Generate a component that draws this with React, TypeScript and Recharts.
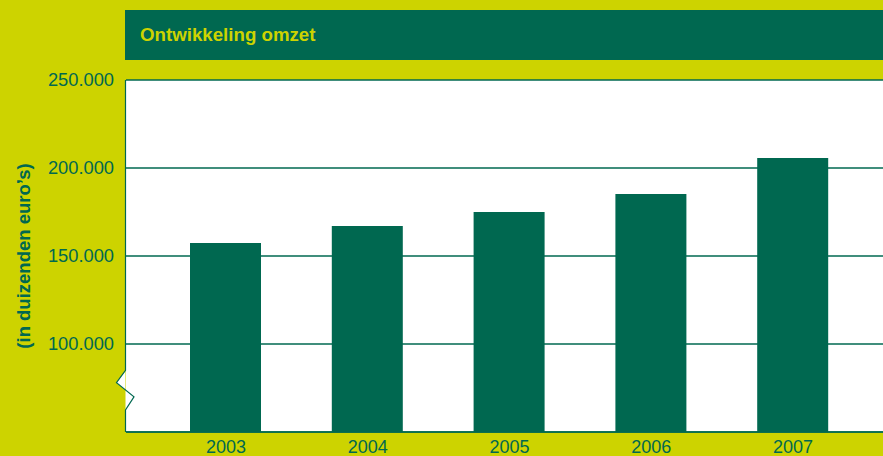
import React from 'react';
import { BarChart, Bar, XAxis, YAxis, CartesianGrid } from 'recharts';

const years = ['2003', '2004', '2005', '2006', '2007'];
const omzet = [157400, 167000, 175000, 185200, 205700];
const yTicks = [100000, 150000, 200000, 250000];
const yDomain = [50000, 250000];
// axis break drawn between these values (top, left apex, right apex, bottom)
const breakValues = [85000, 78000, 70000, 62500];

const GREEN = '#006850';
const YELLOW = '#cdd300';
const FONT = '"Liberation Sans", Arial, sans-serif';

const data = years.map((year, i) => ({ year, omzet: omzet[i] }));

const fmt = (v: number) => v.toLocaleString('de-DE');

const AxisDecor = (props: any) => {
  const vb = props.viewBox || { x: 0, y: 80, width: 126, height: 352 };
  const axisX = vb.x + vb.width - 0.5;
  const toY = (v: number) =>
    vb.y + vb.height * (1 - (v - yDomain[0]) / (yDomain[1] - yDomain[0]));
  const [b0, b1, b2, b3] = breakValues.map(toY);
  const bottom = vb.y + vb.height;
  return (
    <g>
      <polygon
        points={`${axisX},${b0} ${axisX - 9},${b1} ${axisX + 8.5},${b2} ${axisX},${b3}`}
        fill="#fff"
        stroke="none"
      />
      <polyline
        points={`${axisX},${vb.y} ${axisX},${b0} ${axisX - 9},${b1} ${axisX + 8.5},${b2} ${axisX},${b3} ${axisX},${bottom}`}
        fill="none"
        stroke={GREEN}
        strokeWidth={1.2}
      />
      <text
        x={23}
        y={vb.y + vb.height / 2}
        transform={`rotate(-90, 23, ${vb.y + vb.height / 2})`}
        textAnchor="middle"
        dominantBaseline="central"
        fill={GREEN}
        fontFamily={FONT}
        fontWeight="bold"
        fontSize={18.5}
      >
        (in duizenden euro’s)
      </text>
    </g>
  );
};

export default function App() {
  return (
    <div
      style={{
        position: 'absolute',
        left: 0,
        top: 0,
        width: 883,
        height: 456,
        overflow: 'hidden',
        background: YELLOW,
        fontFamily: FONT,
      }}
    >
      <div
        style={{
          position: 'absolute',
          left: 125,
          top: 10,
          width: 758,
          height: 50,
          background: GREEN,
          color: YELLOW,
          fontWeight: 'bold',
          fontSize: 18.7,
          lineHeight: '50px',
          paddingLeft: 15,
          boxSizing: 'border-box',
        }}
      >
        Ontwikkeling omzet
      </div>
      <div style={{ position: 'absolute', left: 0, top: 0 }}>
        <BarChart
          width={900}
          height={456}
          data={data}
          margin={{ top: 80, right: 9, bottom: 0, left: 0 }}
        >
          <CartesianGrid
            vertical={false}
            stroke={GREEN}
            strokeWidth={1.6}
            fill="#fff"
            fillOpacity={1}
          />
          <XAxis
            dataKey="year"
            height={24}
            padding={{ left: 29, right: 27 }}
            axisLine={{ stroke: GREEN, strokeWidth: 1.6 }}
            tickLine={false}
            tickSize={0}
            tickMargin={8}
            tick={{ fill: GREEN, fontSize: 18, fontFamily: FONT }}
          />
          <YAxis
            width={126}
            domain={yDomain}
            ticks={yTicks}
            allowDataOverflow
            axisLine={false}
            tickLine={false}
            tickSize={0}
            tickMargin={12}
            tickFormatter={fmt}
            tick={{ fill: GREEN, fontSize: 18.3, fontFamily: FONT }}
            label={<AxisDecor />}
          />
          <Bar dataKey="omzet" fill={GREEN} barSize={71} isAnimationActive={false} />
        </BarChart>
      </div>
    </div>
  );
}
